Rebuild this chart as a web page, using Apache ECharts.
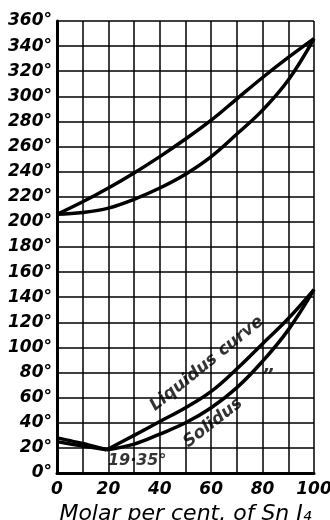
<!DOCTYPE html>
<html>
<head>
<meta charset="utf-8">
<script src="https://cdn.jsdelivr.net/npm/echarts@6/dist/echarts.min.js"></script>
<style>
  html, body { margin: 0; padding: 0; background: #fff; }
  #chart { width: 330px; height: 520px; }
</style>
</head>
<body>
<div id="chart"></div>
<script>
// ---- Data ----
// Upper region (SnI4-rich melting curves between 200 and 350 deg)
const upperPct = [0, 10, 20, 30, 40, 50, 60, 70, 80, 90, 100];
const upperLiquidus = [206, 216, 227, 239, 252, 266, 281, 298, 315, 331, 346];
const upperSolidus  = [206, 207.5, 211, 218, 227, 238, 252, 270, 289, 313, 346];

// Lower region, left branch (0 to minimum)
const lowLeftPct = [0, 10, 19.35];
const lowLeftLiquidus = [28, 23.5, 18.5];
const lowLeftSolidus  = [25, 21.5, 18.5];

// Lower region, right branch (minimum to 100 %)
const lowRightPct = [19.35, 30, 40, 50, 60, 70, 80, 90, 100];
const lowRightLiquidus = [18.5, 30, 41, 52, 65, 83, 103, 123, 146];
const lowRightSolidus  = [18.5, 23, 31, 40, 52, 68, 89, 114, 146];

// Axis ticks
const xTicks = [0, 20, 40, 60, 80, 100];
const yTicks = [0, 20, 40, 60, 80, 100, 120, 140, 160, 180, 200, 220, 240, 260, 280, 300, 320, 340, 360];

// Annotation texts
const noteTexts = ['Liquidus curve', 'Solidus', '\u201D', '19\u00B735\u00B0'];

function pairs(xs, ys) { return xs.map((x, i) => [x, ys[i]]); }

const chart = echarts.init(document.getElementById('chart'), null, { renderer: 'canvas' });

const lineBase = {
  type: 'line',
  showSymbol: false,
  symbol: 'none',
  smooth: 0.4,
  lineStyle: { color: '#000', width: 3.5 },
  z: 5,
  silent: true
};

const labelFont = {
  fontFamily: 'DejaVu Sans',
  fontStyle: 'italic',
  fontWeight: 'bold',
  fontSize: 17,
  color: '#000'
};

function note(value, text, rotate, size) {
  return {
    value: value,
    t: text,
    label: {
      show: true,
      position: 'inside',
      rotate: rotate,
      fontSize: size,
      fontFamily: 'DejaVu Sans',
      fontStyle: 'italic',
      fontWeight: 'bold',
      color: '#000',
      textBorderWidth: 0,
      formatter: p => p.data.t
    }
  };
}

const option = {
  backgroundColor: '#fff',
  animation: false,
  grid: { left: 57, right: 16, top: 21, bottom: 47, outerBoundsMode: 'none', containLabel: false },
  xAxis: {
    type: 'value',
    min: 0, max: 100, interval: 10,
    name: 'Molar per cent. of Sn I\u2084',
    nameLocation: 'middle',
    nameGap: 25,
    nameTextStyle: {
      fontFamily: 'DejaVu Sans',
      fontStyle: 'italic',
      fontSize: 22,
      color: '#000'
    },
    axisLine: { show: true, lineStyle: { color: '#000', width: 3 } },
    axisTick: { show: false },
    axisLabel: Object.assign({}, labelFont, {
      margin: 8,
      formatter: v => (xTicks.indexOf(v) >= 0 ? String(v) : '')
    }),
    splitLine: { show: true, lineStyle: { color: '#000', width: 1.5 } }
  },
  yAxis: {
    type: 'value',
    min: 0, max: 360, interval: 20,
    axisLine: { show: true, lineStyle: { color: '#000', width: 3 } },
    axisTick: { show: false },
    axisLabel: Object.assign({}, labelFont, {
      margin: 5,
      formatter: v => (yTicks.indexOf(v) >= 0 ? v + '\u00B0' : '')
    }),
    splitLine: { show: true, lineStyle: { color: '#000', width: 1.5 } }
  },
  series: [
    Object.assign({}, lineBase, { name: 'upper liquidus', data: pairs(upperPct, upperLiquidus) }),
    Object.assign({}, lineBase, { name: 'upper solidus', data: pairs(upperPct, upperSolidus) }),
    Object.assign({}, lineBase, { name: 'low left liquidus', smooth: 0.2, data: pairs(lowLeftPct, lowLeftLiquidus) }),
    Object.assign({}, lineBase, { name: 'low left solidus', smooth: 0.2, data: pairs(lowLeftPct, lowLeftSolidus) }),
    Object.assign({}, lineBase, { name: 'low right liquidus', data: pairs(lowRightPct, lowRightLiquidus) }),
    Object.assign({}, lineBase, { name: 'low right solidus', data: pairs(lowRightPct, lowRightSolidus) }),
    {
      type: 'scatter',
      symbolSize: 1,
      itemStyle: { color: 'rgba(0,0,0,0)' },
      silent: true,
      z: 10,
      data: [
        note([58.3, 87], noteTexts[0], 39, 17),
        note([60.7, 40], noteTexts[1], 38, 17),
        note([82, 77], noteTexts[2], 0, 18),
        note([31.2, 9.5], noteTexts[3], 0, 16)
      ]
    }
  ]
};

chart.setOption(option);
</script>
</body>
</html>
